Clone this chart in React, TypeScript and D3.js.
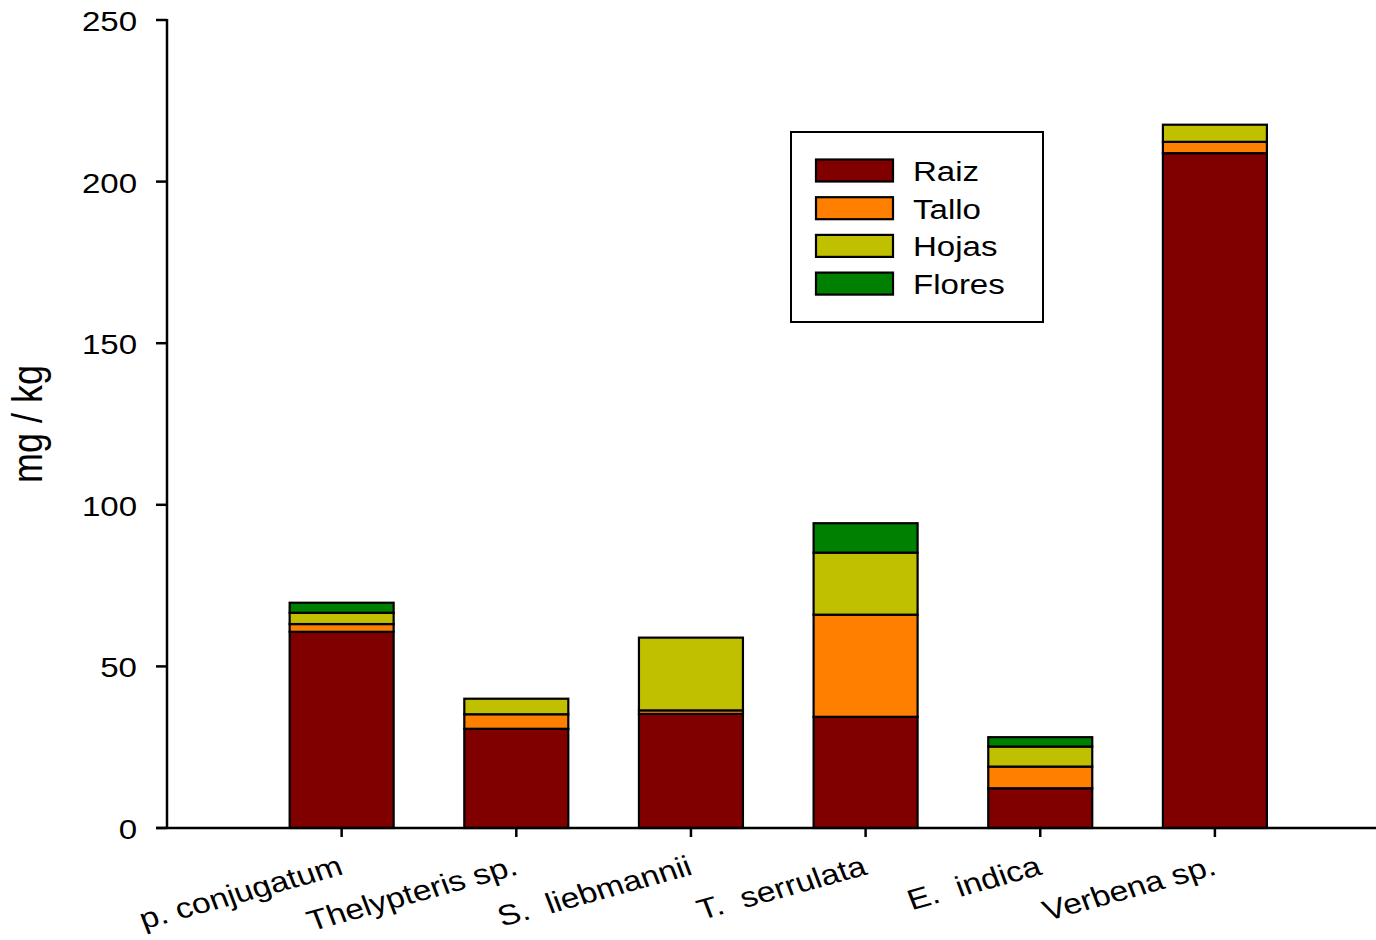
import React from 'react';
import * as d3 from 'd3';

const categories = ['p. conjugatum', 'Thelypteris sp.', 'S.  liebmannii', 'T.  serrulata', 'E.  indica', 'Verbena sp.'];
const raiz = [60.7, 30.7, 35.3, 34.4, 12.3, 208.8];
const tallo = [2.4, 4.5, 1.1, 31.6, 6.7, 3.5];
const hojas = [3.5, 4.8, 22.5, 19.2, 6.2, 5.3];
const flores = [3.1, 0, 0, 9.1, 2.9, 0];
const seriesNames = ['Raiz', 'Tallo', 'Hojas', 'Flores'];
const seriesColors = ['#800000', '#ff8000', '#c0c000', '#008000'];
const yTicks = [0, 50, 100, 150, 200, 250];

const W = 1376;
const H = 940;
const FONT = '"Liberation Sans", Arial, sans-serif';
const SX = 1.18; // the source picture is stretched sideways

const App: React.FC = () => {
    const axisX = 167;
    const axisY = 828;
    const step = 174.65;

    const x = d3.scaleLinear().domain([0, 7]).range([axisX, axisX + 7 * step]);
    const y = d3.scaleLinear().domain([0, 250]).range([axisY, 20]);
    const barW = 104;

    const rows = categories.map((c, i) => ({
        cat: i,
        Raiz: raiz[i],
        Tallo: tallo[i],
        Hojas: hojas[i],
        Flores: flores[i],
    }));
    const stacked = d3.stack<any>().keys(seriesNames)(rows);

    const legendX = 791;
    const legendY = 132;

    return (
        <svg width={W} height={H} style={{ position: 'absolute', left: 0, top: 0, background: '#fff' }}
             fontFamily={FONT}>
            {/* bars */}
            {stacked.map((s, si) => (
                <g key={s.key}>
                    {s.map((d, i) => {
                        if (d[1] - d[0] <= 0) return null;
                        const cx = x(i + 1);
                        return (
                            <rect key={i} x={cx - barW / 2} y={y(d[1])} width={barW}
                                  height={y(d[0]) - y(d[1])} fill={seriesColors[si]}
                                  stroke="#000" strokeWidth={2.2} />
                        );
                    })}
                </g>
            ))}

            {/* y axis */}
            <line x1={axisX} x2={axisX} y1={y(250) - 1} y2={axisY + 1} stroke="#000" strokeWidth={2.5} />
            {yTicks.map((t) => (
                <g key={t}>
                    <line x1={156} x2={axisX} y1={y(t)} y2={y(t)} stroke="#000" strokeWidth={2.5} />
                    <g transform={`translate(137, ${y(t) + 11}) scale(${SX},1)`}>
                        <text textAnchor="end" fontSize={28} fill="#000">{t}</text>
                    </g>
                </g>
            ))}
            <g transform={`translate(42, 424) scale(${SX},1) rotate(-90)`}>
                <text textAnchor="middle" fontSize={36} fill="#000">mg / kg</text>
            </g>

            {/* x axis */}
            <line x1={156} x2={W} y1={axisY} y2={axisY} stroke="#000" strokeWidth={2.5} />
            {categories.map((c, i) => (
                <g key={c}>
                    <line x1={x(i + 1)} x2={x(i + 1)} y1={axisY} y2={axisY + 9} stroke="#000" strokeWidth={2.5} />
                    <g transform={`translate(${x(i + 1) + 3}, 874) scale(${SX},1) rotate(-18)`}>
                        <text textAnchor="end" fontSize={28.5} fill="#000" style={{ whiteSpace: 'pre' }}>{c}</text>
                    </g>
                </g>
            ))}

            {/* legend */}
            <rect x={legendX} y={legendY} width={252} height={190} fill="#fff" stroke="#000" strokeWidth={2} />
            {seriesNames.map((n, i) => {
                const top = 159.5 + i * 37.7;
                return (
                    <g key={n}>
                        <rect x={816} y={top} width={77} height={22} fill={seriesColors[i]} stroke="#000" strokeWidth={2.2} />
                        <g transform={`translate(913, ${top + 21.5}) scale(${SX},1)`}>
                            <text fontSize={28} fill="#000">{n}</text>
                        </g>
                    </g>
                );
            })}
        </svg>
    );
};

export default App;
